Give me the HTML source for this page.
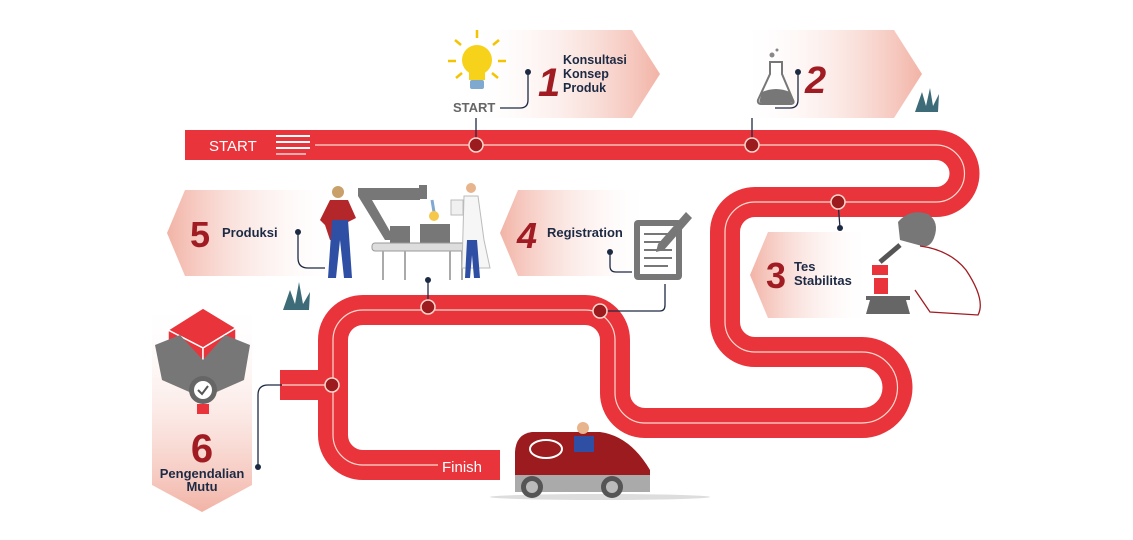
<!DOCTYPE html>
<html><head><meta charset="utf-8"><style>
html,body{margin:0;padding:0;background:#fff}
svg{display:block}
text{font-family:"Liberation Sans",sans-serif}
</style></head><body>
<svg width="1133" height="540" viewBox="0 0 1133 540" xmlns="http://www.w3.org/2000/svg">
<defs>
<linearGradient id="gR" x1="0" x2="1" y1="0" y2="0"><stop offset="0" stop-color="#fff" stop-opacity="0"/><stop offset="1" stop-color="#f2b3a6"/></linearGradient>
<linearGradient id="gL" x1="0" x2="1" y1="0" y2="0"><stop offset="0" stop-color="#f2b3a6"/><stop offset="1" stop-color="#fff" stop-opacity="0"/></linearGradient>
<linearGradient id="gD" x1="0" x2="0" y1="0" y2="1"><stop offset="0" stop-color="#fff" stop-opacity="0"/><stop offset="1" stop-color="#f2b3a6"/></linearGradient>
</defs>

<!-- banners -->
<polygon points="470,30 632,30 660,74 632,118 470,118" fill="url(#gR)"/>
<polygon points="740,30 894,30 922,74 894,118 740,118" fill="url(#gR)"/>
<polygon points="185,190 340,190 340,276 185,276 167,233" fill="url(#gL)"/>
<polygon points="518,190 650,190 650,276 518,276 500,233" fill="url(#gL)"/>
<polygon points="768,232 870,232 870,318 768,318 750,275" fill="url(#gL)"/>
<polygon points="152,300 252,300 252,485 202,512 152,485" fill="url(#gD)"/>

<!-- road -->
<rect x="280" y="370" width="55" height="30" fill="#e8343a"/>
<path d="M185 145 H936 A28.5 28.5 0 0 1 936 202 H755 A30 30 0 0 0 725 232 V322 A30 30 0 0 0 755 352 H862 A35.5 35.5 0 0 1 862 423 H645 A30 30 0 0 1 615 393 V340 A30 30 0 0 0 585 310 H363 A30 30 0 0 0 333 340 V435 A30 30 0 0 0 363 465 H500" fill="none" stroke="#e8343a" stroke-width="30"/>
<path d="M315 145 H936 A28.5 28.5 0 0 1 936 202 H755 A30 30 0 0 0 725 232 V322 A30 30 0 0 0 755 352 H862 A35.5 35.5 0 0 1 862 423 H645 A30 30 0 0 1 615 393 V340 A30 30 0 0 0 585 310 H363 A30 30 0 0 0 333 340 V435 A30 30 0 0 0 363 465 H438" fill="none" stroke="#fbd9cf" stroke-width="1.2"/>
<line x1="282" y1="385" x2="333" y2="385" stroke="#fbd9cf" stroke-width="1.2"/>
<text x="209" y="151" font-size="15" fill="#fff">START</text>
<g stroke="#fff" stroke-width="2"><line x1="276" y1="136" x2="310" y2="136"/><line x1="276" y1="142" x2="310" y2="142"/><line x1="276" y1="148" x2="310" y2="148"/><line x1="276" y1="154" x2="306" y2="154" stroke-opacity=".6"/></g>
<text x="442" y="472" font-size="15" fill="#fff">Finish</text>

<!-- connectors -->
<g fill="none" stroke="#1d2a44" stroke-width="1.3">
<path d="M528 72 V100 Q528 108 520 108 H500"/>
<line x1="476" y1="118" x2="476" y2="145"/>
<path d="M798 72 V100 Q798 108 790 108 H775"/>
<line x1="752" y1="118" x2="752" y2="145"/>
<line x1="838" y1="202" x2="840" y2="228"/>
<path d="M298 232 V258 Q298 268 308 268 H325"/>
<path d="M610 252 V266 Q610 272 616 272 H632"/>
<path d="M600 311 H660 Q665 311 665 305 V284"/>
<line x1="428" y1="280" x2="428" y2="305"/>
<path d="M258 467 V395 Q258 385 268 385 H282"/>
</g>
<g fill="#1d2a44"><circle cx="528" cy="72" r="3"/><circle cx="798" cy="72" r="3"/><circle cx="840" cy="228" r="3"/><circle cx="298" cy="232" r="3"/><circle cx="610" cy="252" r="3"/><circle cx="428" cy="280" r="3"/><circle cx="258" cy="467" r="3"/></g>

<!-- nodes -->
<g fill="#9b1b1f" stroke="#fbd9cf" stroke-width="1.5">
<circle cx="476" cy="145" r="7"/><circle cx="752" cy="145" r="7"/><circle cx="838" cy="202" r="7"/><circle cx="428" cy="307" r="7"/><circle cx="600" cy="311" r="7"/><circle cx="332" cy="385" r="7"/>
</g>

<!-- labels -->
<g font-weight="bold" fill="#1d2a44">
<text x="563" y="64" font-size="12.5">Konsultasi</text>
<text x="563" y="78" font-size="12.5">Konsep</text>
<text x="563" y="92" font-size="12.5">Produk</text>
<text x="222" y="237" font-size="13">Produksi</text>
<text x="547" y="237" font-size="13">Registration</text>
<text x="794" y="271" font-size="13">Tes</text>
<text x="794" y="285" font-size="13">Stabilitas</text>
<text x="202" y="478" font-size="13" text-anchor="middle">Pengendalian</text>
<text x="202" y="491" font-size="13" text-anchor="middle">Mutu</text>
</g>
<text x="453" y="112" font-size="13" font-weight="bold" fill="#666">START</text>
<g fill="#a01c22" font-weight="bold">
<text x="538" y="96" font-size="40" font-style="italic">1</text>
<text x="805" y="93" font-size="38" font-style="italic">2</text>
<text x="766" y="288" font-size="36">3</text>
<text x="517" y="248" font-size="36" font-style="italic">4</text>
<text x="190" y="247" font-size="36">5</text>
<text x="202" y="462" font-size="40" text-anchor="middle">6</text>
</g>

<!-- bulb -->
<g stroke="#f5c400" stroke-width="2.5"><line x1="477" y1="30" x2="477" y2="38"/><line x1="455" y1="40" x2="461" y2="45"/><line x1="499" y1="40" x2="493" y2="45"/><line x1="448" y1="61" x2="456" y2="61"/><line x1="498" y1="61" x2="506" y2="61"/><line x1="456" y1="78" x2="462" y2="73"/><line x1="498" y1="78" x2="492" y2="73"/></g>
<circle cx="477" cy="60" r="15" fill="#f7d21a"/><rect x="469" y="70" width="16" height="10" fill="#f7d21a"/>
<rect x="470" y="80" width="14" height="9" rx="2" fill="#7fa9cf"/>
<!-- flask -->
<path d="M770 62 V74 L758 100 Q757 104 762 104 H790 Q795 104 793 100 L782 74 V62 Z" fill="#fff" stroke="#777" stroke-width="2"/>
<path d="M762 92 Q776 86 790 92 L793 100 Q794 103 790 103 H762 Q758 103 760 99Z" fill="#777"/>
<circle cx="772" cy="55" r="2.5" fill="#888"/><circle cx="777" cy="50" r="1.5" fill="#888"/>
<!-- plants -->
<g fill="#3d6b78"><path d="M915 112 L922 92 L926 106 L930 88 L933 106 L939 94 L938 112Z"/><path d="M283 310 L290 290 L295 304 L299 282 L303 304 L310 292 L309 310Z"/></g>
<!-- clipboard -->
<rect x="634" y="220" width="48" height="60" rx="4" fill="#777"/>
<rect x="640" y="226" width="36" height="48" fill="#fff"/>
<g stroke="#777" stroke-width="2"><line x1="644" y1="234" x2="672" y2="234"/><line x1="644" y1="242" x2="664" y2="242"/><line x1="644" y1="250" x2="672" y2="250"/><line x1="644" y1="258" x2="672" y2="258"/><line x1="644" y1="266" x2="668" y2="266"/></g>
<path d="M686 212 L692 218 L664 250 L656 252 L658 244Z" fill="#777"/>
<!-- factory -->
<path d="M358 188 H420 V200 H372 L395 240 H385 L358 196Z" fill="#777"/>
<rect x="419" y="185" width="8" height="14" fill="#777"/><line x1="432" y1="200" x2="434" y2="212" stroke="#7fa9cf" stroke-width="3"/>
<circle cx="434" cy="216" r="5" fill="#f5c84a"/>
<rect x="390" y="226" width="20" height="18" fill="#777"/><rect x="420" y="224" width="30" height="20" fill="#777"/>
<rect x="372" y="243" width="100" height="8" rx="3" fill="#ddd" stroke="#999"/>
<g stroke="#aaa" stroke-width="2"><line x1="383" y1="251" x2="383" y2="280"/><line x1="405" y1="251" x2="405" y2="280"/><line x1="450" y1="251" x2="450" y2="280"/><line x1="462" y1="251" x2="462" y2="280"/></g>
<circle cx="338" cy="192" r="6" fill="#c9a06a"/>
<path d="M330 200 H348 L356 218 L348 222 L348 240 H330 L325 225 L320 220Z" fill="#b3262a"/>
<path d="M332 220 H348 L352 278 H344 L340 240 L336 278 H328Z" fill="#2e4fa3"/>
<circle cx="471" cy="188" r="5" fill="#e8b48c"/>
<path d="M464 196 H478 L484 240 L490 268 H462Z" fill="#f6f6f6" stroke="#bbb"/>
<path d="M467 240 H477 L480 278 H474 L472 255 L470 278 H465Z" fill="#2e4fa3"/>
<rect x="451" y="200" width="12" height="15" fill="#f0f0f0" stroke="#bbb"/>
<!-- scientist -->
<path d="M898 222 Q910 208 928 214 Q940 222 934 238 Q930 248 922 246 L900 240Z" fill="#777"/>
<path d="M920 246 Q950 250 966 270 Q986 300 978 315 L930 312 L915 290" fill="none" stroke="#a01c22" stroke-width="1.3"/>
<path d="M880 262 L900 245" stroke="#555" stroke-width="5"/>
<rect x="872" y="265" width="16" height="10" fill="#e8343a"/><rect x="874" y="278" width="14" height="16" fill="#e8343a"/>
<rect x="866" y="296" width="44" height="4" fill="#666"/><path d="M870 300 H906 L910 314 H866Z" fill="#666"/>
<!-- box -->
<polygon points="168,330 203,308 236,328 203,348" fill="#e8343a" stroke="#fff" stroke-width="1.5"/>
<polygon points="168,330 168,345 203,365 203,348" fill="#e8343a" stroke="#fff" stroke-width="1.5"/>
<polygon points="236,328 236,345 203,365 203,348" fill="#e8343a" stroke="#fff" stroke-width="1.5"/>
<polygon points="155,345 180,335 203,360 203,398 162,380" fill="#777"/>
<polygon points="250,345 225,335 203,360 203,398 244,380" fill="#777"/>
<circle cx="203" cy="390" r="14" fill="#666"/><circle cx="203" cy="390" r="9" fill="#fff"/>
<path d="M198 390 L202 394 L208 386" fill="none" stroke="#555" stroke-width="2"/>
<rect x="197" y="404" width="12" height="10" fill="#e8343a"/>
<!-- van -->
<ellipse cx="600" cy="497" rx="110" ry="3" fill="#ddd"/>
<path d="M515 490 V452 Q516 434 532 432 H600 Q630 436 650 470 V490Z" fill="#9b1b1f"/>
<path d="M515 475 H650 V492 H515Z" fill="#aaa"/>
<ellipse cx="546" cy="449" rx="16" ry="9" fill="none" stroke="#fff" stroke-width="2"/>
<circle cx="583" cy="428" r="6" fill="#e8b48c"/><rect x="574" y="436" width="20" height="16" fill="#2e4fa3"/>
<circle cx="532" cy="487" r="11" fill="#555"/><circle cx="532" cy="487" r="6" fill="#bbb"/>
<circle cx="612" cy="487" r="11" fill="#555"/><circle cx="612" cy="487" r="6" fill="#bbb"/>
</svg>
</body></html>
